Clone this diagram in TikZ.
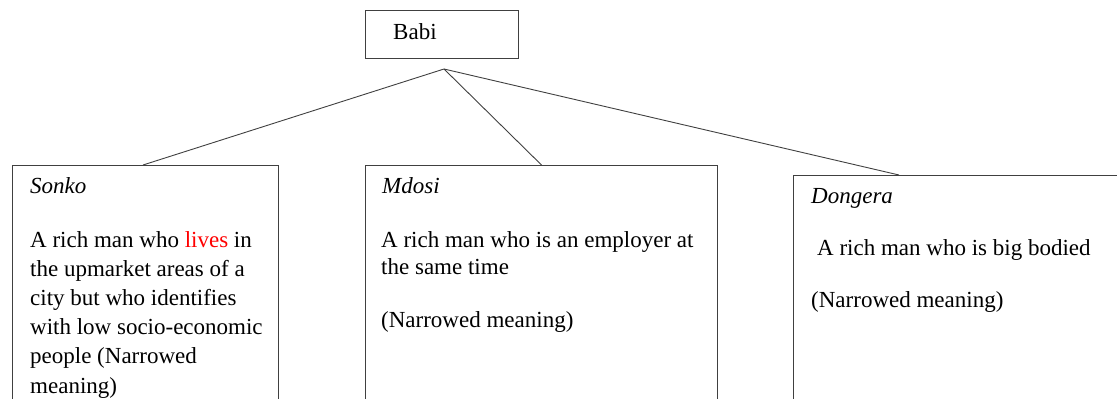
\documentclass[tikz,border=0pt]{standalone}
\usepackage{fontspec}
\setmainfont{Liberation Serif}
\usepackage{xcolor}
\usetikzlibrary{positioning,calc}

\begin{document}
\begin{tikzpicture}[
	x=1pt, y=-1pt,
	box/.style={
		rectangle,
		draw=black!75,
		line width=1pt,
		inner sep=0pt,
		anchor=north west
	},
	words/.style={
		anchor=base west,
		inner sep=0pt,
		font=\fontsize{23}{29.2}\selectfont
	},
	title/.style={
		words,
		font=\fontsize{23}{29.2}\selectfont\itshape
	},
	link/.style={
		draw=black!75,
		line width=0.9pt
	},
	]
	\useasboundingbox (0,0) rectangle (1117,399);
	\clip (0,0) rectangle (1117,399);

	\node[box, minimum width=153pt, minimum height=48pt] (babi) at (365,10) {};
	\node[words] (babi text) at (393,39) {Babi};

	\node[box, minimum width=266pt, minimum height=260pt] (sonko) at (12,165) {};
	\node[box, minimum width=352pt, minimum height=260pt] (mdosi) at (365,165) {};
	\node[box, minimum width=400pt, minimum height=260pt] (dongera) at (793,175) {};

	\node[title] (sonko title) at (30,193) {Sonko};
	\node[words] (sonko body) at (30,247) {\parbox[t]{250pt}{\raggedright
		A rich man who \textcolor{red}{lives} in\\ the upmarket areas of a\\
		city but who identifies\\ with low socio-economic\\ people (Narrowed\\ meaning)}};

	\node[title] (mdosi title) at (382,193) {Mdosi};
	\node[words, font=\fontsize{23}{27.5}\selectfont] (mdosi body) at (381,247) {\parbox[t]{330pt}{\raggedright
		A rich man who is an employer at\\ the same time\\[25pt] (Narrowed meaning)}};

	\node[title] (dongera title) at (811,203) {Dongera};
	\node[words] (dongera body) at (817,255) {A rich man who is big bodied};
	\node[words] (dongera note) at (811,307) {(Narrowed meaning)};

	\coordinate (apex) at (444,69);
	\draw[link] (apex) -- ($(sonko.north west)+(131,0)$);
	\draw[link] (apex) -- (mdosi.north);
	\draw[link] (apex) -- ($(dongera.north west)+(106,0)$);
\end{tikzpicture}
\end{document}
